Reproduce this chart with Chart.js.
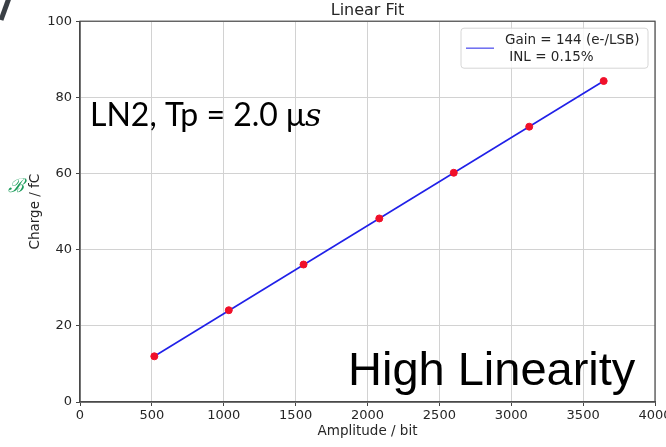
<!DOCTYPE html>
<html>
<head>
<meta charset="utf-8">
<script src="https://cdn.jsdelivr.net/npm/chart.js@4.4.1/dist/chart.umd.min.js"></script>
<style>
  html, body { margin: 0; padding: 0; background: #fff; }
  #wrap { width: 666px; height: 447px; }
</style>
</head>
<body>
<div id="wrap"><canvas id="myChart" width="666" height="447"></canvas></div>
<script>
// measured points (amplitude in bit, charge in fC)
const amplitude = [517, 1035, 1555, 2082, 2600, 3125, 3643];
const charge = [12.0, 24.1, 36.1, 48.2, 60.2, 72.3, 84.3];
// linear fit, end points
const fitAmplitude = [517, 3643];
const fitCharge = [12.0, 84.3];

const xTicks = [0, 500, 1000, 1500, 2000, 2500, 3000, 3500, 4000];
const yTicks = [0, 20, 40, 60, 80, 100];
const legendLines = ["Gain = 144 (e-/LSB)", " INL = 0.15%"];

const tickFont = { family: "'DejaVu Sans'", size: 13 };

// frame, legend and slide notes drawn over the plot
const extras = {
  id: 'extras',
  afterDatasetsDraw(chart) {
    const { ctx, chartArea: a } = chart;
    ctx.save();
    // spines
    ctx.strokeStyle = '#4a4a4a';
    ctx.lineWidth = 1.2;
    ctx.strokeRect(a.left, a.top, a.right - a.left, a.bottom - a.top);

    // legend box
    const bx = a.right - 194, by = a.top + 7, bw = 187, bh = 40;
    ctx.fillStyle = 'rgba(255,255,255,0.85)';
    ctx.strokeStyle = '#d6d6d6';
    ctx.lineWidth = 1;
    ctx.beginPath();
    ctx.roundRect(bx, by, bw, bh, 3);
    ctx.fill();
    ctx.stroke();
    ctx.strokeStyle = '#6b6bf0';
    ctx.lineWidth = 1.5;
    ctx.beginPath();
    ctx.moveTo(bx + 5, by + 20);
    ctx.lineTo(bx + 33, by + 20);
    ctx.stroke();
    ctx.fillStyle = '#262626';
    ctx.font = "13.5px 'DejaVu Sans'";
    ctx.textBaseline = 'middle';
    ctx.textAlign = 'left';
    ctx.fillText(legendLines[0], bx + 44, by + 12);
    ctx.fillText(legendLines[1], bx + 44, by + 29);

    // slide text
    ctx.fillStyle = '#000';
    ctx.textBaseline = 'alphabetic';
    ctx.font = "32px Lato";
    const t1 = 'LN2, Tp = 2.0 \u03bc';
    ctx.fillText(t1, 90, 126);
    const w1 = ctx.measureText(t1).width;
    ctx.font = "italic 32px 'DejaVu Serif'";
    ctx.fillText('s', 90 + w1, 126);

    ctx.font = "47px 'Liberation Sans'";
    ctx.fillText('High Linearity', 348, 385);

    ctx.fillStyle = '#1a9c5a';
    ctx.font = "italic 19px 'DejaVu Serif'";
    ctx.fillText('\u212c', 8, 192);

    ctx.strokeStyle = '#3a3f45';
    ctx.lineWidth = 5;
    ctx.beginPath();
    ctx.moveTo(9, -2);
    ctx.lineTo(1, 20);
    ctx.stroke();
    ctx.restore();
  }
};

new Chart(document.getElementById('myChart'), {
  type: 'scatter',
  data: {
    datasets: [
      {
        label: 'points',
        data: amplitude.map((x, i) => ({ x: x, y: charge[i] })),
        backgroundColor: '#f0102a',
        borderColor: '#f0102a',
        pointRadius: 3.5,
        pointHoverRadius: 3.5,
        order: 0
      },
      {
        label: legendLines.join(' '),
        data: fitAmplitude.map((x, i) => ({ x: x, y: fitCharge[i] })),
        showLine: true,
        borderColor: '#2020e8',
        borderWidth: 1.6,
        pointRadius: 0,
        order: 1
      }
    ]
  },
  options: {
    responsive: false,
    animation: false,
    layout: { padding: { top: 0, right: 11, left: 0, bottom: 0 } },
    plugins: {
      legend: { display: false },
      tooltip: { enabled: false },
      title: {
        display: true,
        text: 'Linear Fit',
        fullSize: false,
        color: '#262626',
        font: { family: "'DejaVu Sans'", size: 16, weight: 'normal' },
        padding: { top: 1, bottom: 1 }
      }
    },
    scales: {
      x: {
        type: 'linear',
        min: 0,
        max: 4000,
        afterBuildTicks: s => { s.ticks = xTicks.map(v => ({ value: v })); },
        afterFit: s => { s.height = 45; s.paddingLeft = 0; s.paddingRight = 0; },
        ticks: { color: '#262626', font: tickFont, padding: 2, maxRotation: 0, callback: v => String(v) },
        grid: { color: '#d2d2d2', tickColor: '#444', tickLength: 4, lineWidth: 1 },
        border: { color: '#4a4a4a', width: 1.2 },
        title: {
          display: true,
          text: 'Amplitude / bit',
          color: '#262626',
          font: { family: "'DejaVu Sans'", size: 13.5 },
          padding: { bottom: 7 }
        }
      },
      y: {
        type: 'linear',
        min: 0,
        max: 100,
        afterBuildTicks: s => { s.ticks = yTicks.map(v => ({ value: v })); },
        afterFit: s => { s.width = 80; },
        ticks: { color: '#262626', font: tickFont, padding: 4, callback: v => String(v) },
        grid: { color: '#d2d2d2', tickColor: '#444', tickLength: 4, lineWidth: 1 },
        border: { color: '#4a4a4a', width: 1.2 },
        title: {
          display: true,
          text: 'Charge / fC',
          color: '#262626',
          font: { family: "'DejaVu Sans'", size: 13.5 },
          padding: { top: 27 }
        }
      }
    }
  },
  plugins: [extras]
});
</script>
</body>
</html>
